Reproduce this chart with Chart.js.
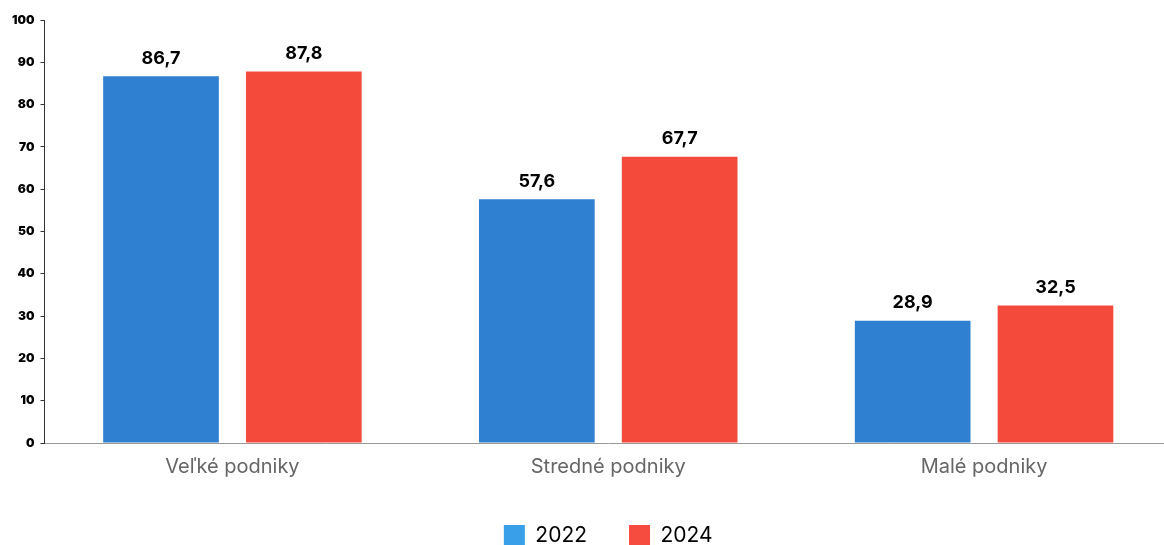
<!DOCTYPE html>
<html lang="sk">
<head>
    <meta charset="UTF-8">
    <title>Podniky 2022 vs 2024</title>
    <script src="https://cdn.jsdelivr.net/npm/chart.js"></script>
    <style>
        html, body { margin: 0; padding: 0; background: #fff; overflow: hidden; }
        /* a bit larger than the window: the original plot runs past the right edge
           and its legend sits very low */
        #wrap { width: 1172px; height: 556px; }
    </style>
</head>
<body>
    <div id="wrap"><canvas id="chart"></canvas></div>
    <script>
        // data
        const categories = ['Veľké podniky', 'Stredné podniky', 'Malé podniky'];
        const values2022 = [86.7, 57.6, 28.9];
        const values2024 = [87.8, 67.7, 32.5];
        const seriesNames = ['2022', '2024'];

        const blue = '#2f80d0';
        const red = '#f44a3c';
        const legendColors = ['#3a9fe9', '#f64c40'];
        const font = 'Inter, "Noto Sans", sans-serif';

        // value labels above bars, comma decimals
        const valueLabels = {
            id: 'valueLabels',
            afterDatasetsDraw(chart) {
                const ctx = chart.ctx;
                ctx.save();
                ctx.font = 'bold 18px ' + font;
                ctx.fillStyle = '#000';
                ctx.textAlign = 'center';
                ctx.textBaseline = 'bottom';
                chart.data.datasets.forEach((ds, i) => {
                    chart.getDatasetMeta(i).data.forEach((bar, j) => {
                        const txt = ds.data[j].toFixed(1).replace('.', ',');
                        ctx.fillText(txt, bar.x, bar.y - 9);
                    });
                });
                ctx.restore();
            }
        };

        const ctx = document.getElementById('chart').getContext('2d');
        new Chart(ctx, {
            type: 'bar',
            data: {
                labels: categories,
                datasets: [{
                    label: seriesNames[0],
                    data: values2022,
                    backgroundColor: blue
                }, {
                    label: seriesNames[1],
                    data: values2024,
                    backgroundColor: red
                }]
            },
            options: {
                responsive: true,
                maintainAspectRatio: false,
                animation: false,
                categoryPercentage: 0.76,
                barPercentage: 0.81,
                layout: {
                    padding: { top: 20, right: 0, left: 6, bottom: 0 }
                },
                plugins: {
                    legend: {
                        position: 'bottom',
                        fullSize: false,
                        labels: {
                            font: { family: font, size: 21 },
                            color: '#666',
                            boxWidth: 21,
                            boxHeight: 21,
                            padding: 42,
                            generateLabels: function(chart) {
                                return chart.data.datasets.map((ds, i) => ({
                                    text: ds.label,
                                    fillStyle: legendColors[i],
                                    strokeStyle: legendColors[i],
                                    lineWidth: 0,
                                    datasetIndex: i
                                }));
                            }
                        }
                    },
                    tooltip: { enabled: false }
                },
                scales: {
                    x: {
                        grid: { display: false },
                        border: { color: '#999', width: 1 },
                        ticks: {
                            color: '#666',
                            padding: 4,
                            font: { family: font, size: 20 }
                        }
                    },
                    y: {
                        min: 0,
                        max: 100,
                        ticks: {
                            stepSize: 10,
                            color: '#000',
                            padding: 6,
                            font: { family: font, size: 12, weight: 900 }
                        },
                        grid: {
                            drawOnChartArea: false,
                            drawTicks: true,
                            tickLength: 4,
                            color: '#333'
                        },
                        border: { color: '#333', width: 1 }
                    }
                }
            },
            plugins: [valueLabels]
        });
    </script>
</body>
</html>
